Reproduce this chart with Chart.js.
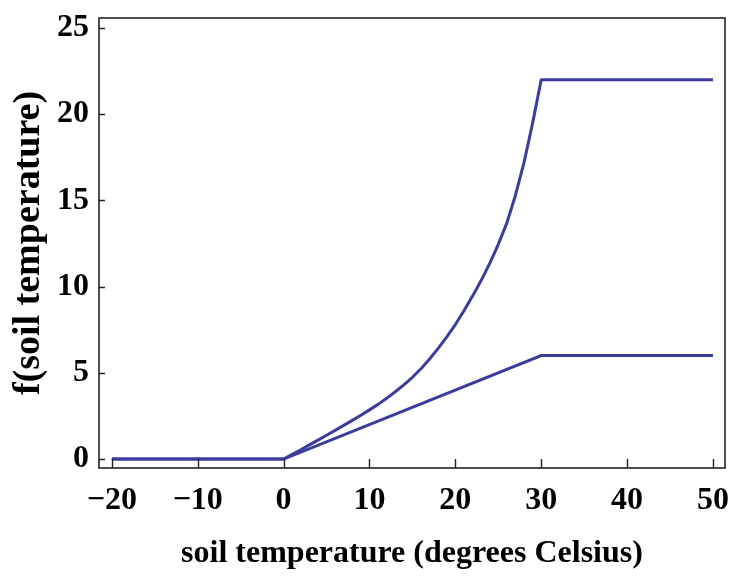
<!DOCTYPE html>
<html>
<head>
<meta charset="utf-8">
<script src="https://cdn.jsdelivr.net/npm/chart.js@4/dist/chart.umd.min.js"></script>
<style>
  html, body { margin: 0; padding: 0; background: #fff; }
  #c { display: block; }
</style>
</head>
<body>
<canvas id="c" width="731" height="576"></canvas>
<script>
// ---- data ----
const upperX = [-20, 0, 1, 2, 3, 4, 5, 6, 7, 8, 9, 10, 11, 12, 13, 14, 15, 16, 17, 18, 19, 20, 21, 22, 23, 24, 25, 26, 27, 28, 29, 30, 50];
const upperY = [0, 0, 0.27, 0.54, 0.82, 1.1, 1.38, 1.66, 1.95, 2.24, 2.54, 2.85, 3.17, 3.52, 3.9, 4.3, 4.74, 5.24, 5.8, 6.42, 7.08, 7.8, 8.6, 9.45, 10.35, 11.35, 12.45, 13.7, 15.3, 17.2, 19.5, 22, 22];
const lowerX = [-20, 0, 30, 50];
const lowerY = [0, 0, 6, 6];
const xTickValues = [-20, -10, 0, 10, 20, 30, 40, 50];
const yTickValues = [0, 5, 10, 15, 20, 25];
const xTitle = 'soil temperature (degrees Celsius)';
const yTitle = 'f(soil temperature)';

const lineColor = '#3c3c9c';
const fontFamily = "'Liberation Serif', 'DejaVu Serif', serif";

const toPts = (xs, ys) => xs.map((x, i) => ({ x: x, y: ys[i] }));

const framePlugin = {
  id: 'frame',
  afterDraw(chart) {
    const { ctx, chartArea: { left, right, top, bottom }, scales: { x, y } } = chart;
    ctx.save();
    ctx.strokeStyle = '#222';
    ctx.lineWidth = 1.6;
    ctx.strokeRect(left, top, right - left, bottom - top);
    ctx.lineWidth = 1.4;
    ctx.beginPath();
    x.ticks.forEach(t => {
      const px = Math.round(x.getPixelForValue(t.value)) + 0.5;
      ctx.moveTo(px, bottom);
      ctx.lineTo(px, bottom - 9);
    });
    y.ticks.forEach(t => {
      const py = Math.round(y.getPixelForValue(t.value)) + 0.5;
      ctx.moveTo(left, py);
      ctx.lineTo(left + 6, py);
    });
    ctx.stroke();
    ctx.restore();
  }
};

new Chart(document.getElementById('c'), {
  type: 'scatter',
  data: {
    datasets: [
      { data: toPts(upperX, upperY), showLine: true, borderColor: lineColor, borderWidth: 3, pointRadius: 0, tension: 0, borderJoinStyle: 'round' },
      { data: toPts(lowerX, lowerY), showLine: true, borderColor: lineColor, borderWidth: 3, pointRadius: 0, tension: 0 }
    ]
  },
  options: {
    responsive: false,
    animation: false,
    layout: { padding: { top: 18, right: 6, left: 0, bottom: 0 } },
    plugins: { legend: { display: false }, tooltip: { enabled: false } },
    scales: {
      x: {
        type: 'linear',
        min: -21.5,
        max: 51.4,
        grid: { display: false },
        border: { display: false },
        afterBuildTicks: s => { s.ticks = xTickValues.map(v => ({ value: v })); },
        afterFit: s => { s.height = 108; s.paddingLeft = 0; s.paddingRight = 0; },
        ticks: {
          color: '#000',
          padding: 6,
          maxRotation: 0,
          autoSkip: false,
          font: { family: fontFamily, size: 32, weight: 'bold' },
          callback: v => (v < 0 ? '\u2212' + Math.abs(v) : String(v))
        },
        title: {
          display: true,
          text: xTitle,
          color: '#000',
          font: { family: fontFamily, size: 32, weight: 'bold' },
          padding: { top: 0, bottom: 3 }
        }
      },
      y: {
        type: 'linear',
        min: -0.52,
        max: 25.58,
        grid: { display: false },
        border: { display: false },
        afterBuildTicks: s => { s.ticks = yTickValues.map(v => ({ value: v })); },
        afterFit: s => { s.width = 99; s.paddingTop = 0; s.paddingBottom = 0; },
        ticks: {
          color: '#000',
          padding: 2,
          font: { family: fontFamily, size: 32, weight: 'bold' }
        },
        title: {
          display: true,
          text: yTitle,
          color: '#000',
          font: { family: fontFamily, size: 38, weight: 'bold' },
          padding: { top: 6, bottom: 0 }
        }
      }
    }
  },
  plugins: [framePlugin]
});
</script>
</body>
</html>
